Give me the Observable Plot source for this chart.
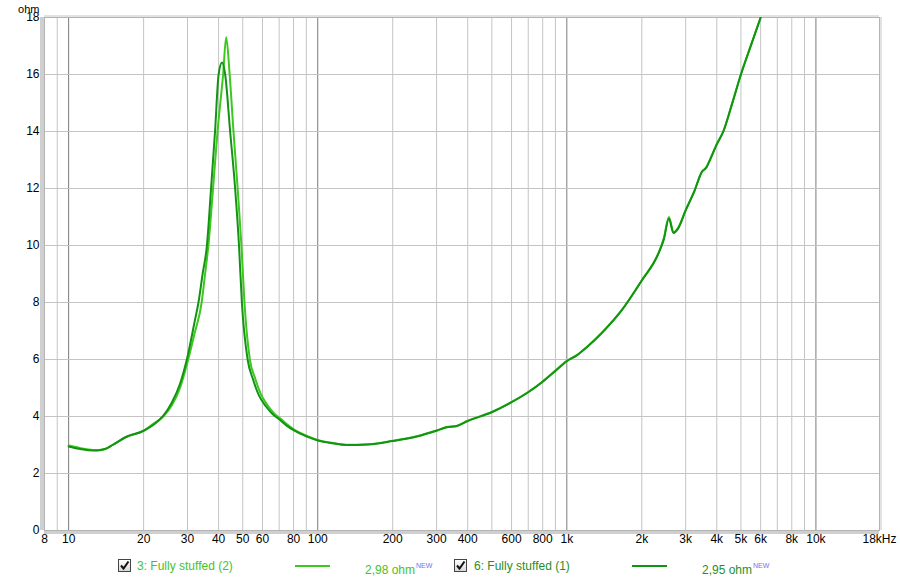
<!DOCTYPE html>
<html><head><meta charset="utf-8">
<script src="https://cdn.jsdelivr.net/npm/d3@7"></script>
<script src="https://cdn.jsdelivr.net/npm/@observablehq/plot@0.6"></script>
<style>
body{margin:0;background:#fff;font-family:"Liberation Sans",Arial,sans-serif;}
#wrap{position:relative;width:900px;height:581px;overflow:hidden;}
#legend{position:absolute;left:0;top:552px;width:900px;height:29px;font-size:12px;}
#legend .cb{position:absolute;top:7px;width:11px;height:11px;border:1px solid #444;background:linear-gradient(#ffffff,#d8d8d8);}
#legend .cb svg{position:absolute;left:0;top:0;}
#legend .t{position:absolute;top:7px;line-height:14px;white-space:nowrap;}
#legend .ln{position:absolute;top:13px;width:35px;height:2px;}
#legend sup{font-size:7px;color:#7070ee;vertical-align:6px;margin-left:1px;}
</style></head><body>
<div id="wrap"><div id="chart"></div><div id="legend"></div></div>
<script>
// Series 6: Fully stuffed (1) — darker green
const freqDark = [10, 11, 12, 13, 14, 15, 17, 20, 22, 24, 26, 28, 30, 32, 33.2, 34.5, 35.9, 37.3, 38.7, 40.0, 41.3, 42.5, 44.5, 46.6, 48.3, 49.6, 52.3, 55, 58, 62, 66, 70, 75, 80, 90, 100, 115, 130, 160, 200, 250, 300, 330, 360, 400, 500, 600, 700, 800, 900, 1000, 1100, 1200, 1400, 1660, 2000, 2330, 2450, 2570, 2680, 2800, 3000, 3250, 3480, 3640, 3755, 4000, 4250, 4600, 5000, 5500, 6000];
const impDark = [2.95, 2.87, 2.82, 2.81, 2.86, 3.0, 3.28, 3.5, 3.72, 4.03, 4.5, 5.15, 6.1, 7.3, 8.0, 9.0, 10.0, 12.0, 14.0, 16.0, 16.42, 16.0, 14.0, 12.0, 10.0, 8.0, 6.0, 5.3, 4.75, 4.35, 4.08, 3.9, 3.68, 3.52, 3.3, 3.16, 3.06, 3.0, 3.02, 3.14, 3.3, 3.5, 3.62, 3.66, 3.84, 4.15, 4.5, 4.85, 5.22, 5.6, 5.94, 6.15, 6.42, 6.98, 7.72, 8.77, 9.71, 10.2, 10.95, 10.44, 10.6, 11.23, 11.9, 12.57, 12.75, 13.0, 13.55, 14.0, 14.95, 16.0, 17.05, 18.0];

// Series 3: Fully stuffed (2) — lighter green
const freqLight = [10, 11, 12, 13, 14, 15, 17, 20, 22, 24, 26, 28, 30, 32, 34.2, 35.3, 36.4, 38.0, 39.6, 41.7, 42.9, 44.3, 45.9, 47.7, 49.4, 50.8, 53.4, 56, 59, 63, 67, 71, 76, 81, 90, 100, 115, 130, 160, 200, 250, 300, 330, 360, 400, 500, 600, 700, 800, 900, 1000, 1100, 1200, 1400, 1660, 2000, 2330, 2450, 2570, 2680, 2800, 3000, 3250, 3480, 3640, 3755, 4000, 4250, 4600, 5000, 5500, 6000];
const impLight = [2.98, 2.9, 2.84, 2.82, 2.86, 3.0, 3.28, 3.5, 3.76, 4.0, 4.4, 5.0, 5.9, 6.9, 8.0, 9.0, 10.0, 12.0, 14.0, 16.0, 17.31, 16.0, 14.0, 12.0, 10.0, 8.0, 6.0, 5.35, 4.8, 4.38, 4.1, 3.92, 3.7, 3.52, 3.33, 3.18, 3.07, 3.01, 3.03, 3.15, 3.31, 3.51, 3.63, 3.67, 3.85, 4.16, 4.51, 4.86, 5.23, 5.61, 5.95, 6.16, 6.43, 6.99, 7.73, 8.78, 9.72, 10.25, 11.0, 10.46, 10.62, 11.24, 11.91, 12.58, 12.76, 13.01, 13.56, 14.01, 14.96, 16.01, 17.06, 18.0];

const seriesNames = ["3: Fully stuffed (2)", "6: Fully stuffed (1)"];
const seriesValues = ["2,98 ohm", "2,95 ohm"];
const seriesColors = ["#3cc81e", "#129412"];
const seriesTextColors = ["#46c22a", "#1f901f"];

const xTicks = [8, 10, 20, 30, 40, 50, 60, 80, 100, 200, 300, 400, 600, 800, 1000, 2000, 3000, 4000, 5000, 6000, 8000, 10000, 18000];
const xTickLabels = ["8", "10", "20", "30", "40", "50", "60", "80", "100", "200", "300", "400", "600", "800", "1k", "2k", "3k", "4k", "5k", "6k", "8k", "10k", "18kHz"];
const yTicks = [0, 2, 4, 6, 8, 10, 12, 14, 16, 18];
const yGrid = [2, 4, 6, 8, 10, 12, 14, 16];
const minorGrid = [9, 20, 30, 40, 50, 60, 70, 80, 90, 200, 300, 400, 500, 600, 700, 800, 900, 2000, 3000, 4000, 5000, 6000, 7000, 8000, 9000];
const majorGrid = [10, 100, 1000, 10000];

const light = freqLight.map((f, i) => ({f, z: impLight[i]}));
const dark = freqDark.map((f, i) => ({f, z: impDark[i]}));
const xLabelData = xTicks.map((t, i) => ({t, label: xTickLabels[i]}));

const chart = Plot.plot({
  width: 900,
  height: 552,
  marginLeft: 44,
  marginRight: 21,
  marginTop: 17,
  marginBottom: 22,
  style: {fontFamily: "'Liberation Sans', Arial, sans-serif", fontSize: "12px", color: "#000", background: "#fff"},
  x: {type: "log", domain: [8, 18000], axis: null},
  y: {domain: [0, 18], axis: null},
  marks: [
    Plot.ruleX(minorGrid, {stroke: "#c4c4c4", strokeWidth: 1}),
    Plot.ruleX(majorGrid, {stroke: "#7c7c7c", strokeWidth: 1}),
    Plot.ruleY(yGrid, {stroke: "#c4c4c4", strokeWidth: 1}),
    Plot.ruleX([8], {stroke: "#cfcfcf", strokeWidth: 4, dx: -2.5}),
    Plot.ruleY([0], {stroke: "#cfcfcf", strokeWidth: 3, dy: 2}),
    Plot.ruleY([18], {stroke: "#e2e2e2", strokeWidth: 2, dy: -1.5}),
    Plot.ruleX([18000], {stroke: "#e2e2e2", strokeWidth: 2, dx: 1.5}),
    Plot.frame({stroke: "#b4b4b4", strokeWidth: 1}),
    Plot.line(light, {x: "f", y: "z", stroke: seriesColors[0], strokeWidth: 2, curve: "monotone-x", clip: true}),
    Plot.line(dark, {x: "f", y: "z", stroke: seriesColors[1], strokeWidth: 2, curve: "monotone-x", clip: true}),
    Plot.text(xLabelData, {x: "t", text: "label", frameAnchor: "bottom", dy: 12, fontSize: 12, fill: "#000"}),
    Plot.text(yTicks, {y: d => d, text: d => String(d), frameAnchor: "left", dx: -5, textAnchor: "end", fontSize: 12, fill: "#000"}),
    Plot.text(["ohm"], {frameAnchor: "top-left", dx: -5, dy: -12, textAnchor: "end", fontSize: 11, fill: "#000"})
  ]
});
document.getElementById("chart").appendChild(chart);

const legend = document.getElementById("legend");
const layout = [
  {cb: 118, text: 137, line: 295, val: 365},
  {cb: 454, text: 474, line: 632, val: 702}
];
const check = '<svg width="11" height="11" viewBox="0 0 11 11"><path d="M2 5.5 L4.5 8.5 L9.5 1.5" fill="none" stroke="#111" stroke-width="2"/></svg>';
seriesNames.forEach((name, i) => {
  const L = layout[i];
  legend.insertAdjacentHTML("beforeend",
    `<div class="cb" style="left:${L.cb}px">${check}</div>` +
    `<div class="t" style="left:${L.text}px;color:${seriesTextColors[i]}">${name}</div>` +
    `<div class="ln" style="left:${L.line}px;background:${seriesColors[i]}"></div>` +
    `<div class="t" style="left:${L.val}px;color:${seriesTextColors[i]}">${seriesValues[i]}<sup>NEW</sup></div>`);
});
</script>
</body></html>
